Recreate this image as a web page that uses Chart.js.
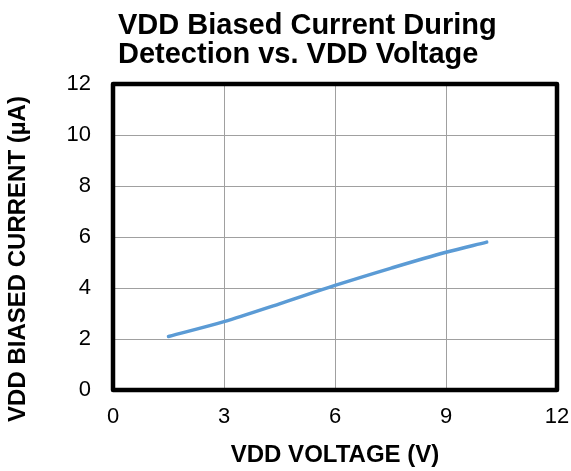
<!DOCTYPE html>
<html>
<head>
<meta charset="utf-8">
<script src="https://cdn.jsdelivr.net/npm/chart.js@4"></script>
<style>
  html, body { margin: 0; padding: 0; background: #fff; }
  #wrap { width: 571px; height: 471px; }
</style>
</head>
<body>
<div id="wrap"><canvas id="myChart" width="571" height="471"></canvas></div>
<script>
var titleLines = ['VDD Biased Current During', 'Detection vs. VDD Voltage'];
var xTitle = 'VDD VOLTAGE (V)';
var yTitle = 'VDD BIASED CURRENT (µA)';

var voltage = [1.5, 3, 4.5, 6, 7.5, 9, 10.1];
var current = [2.1, 2.68, 3.38, 4.1, 4.77, 5.4, 5.8];

var xTicks = [0, 3, 6, 9, 12];
var yTicks = [0, 2, 4, 6, 8, 10, 12];

var FONT = '"Liberation Sans", Arial, sans-serif';

var points = voltage.map(function (v, i) { return { x: v, y: current[i] }; });

// thick black frame + rotated y title, and nudge title to the right
var framePlugin = {
  id: 'frame',
  afterLayout: function (chart) {
    if (chart.titleBlock) {
      chart.titleBlock.left = chart.chartArea.left + 5;
    }
  },
  afterDraw: function (chart) {
    var ctx = chart.ctx, a = chart.chartArea;
    ctx.save();
    ctx.strokeStyle = '#000';
    ctx.lineWidth = 4.5;
    ctx.lineJoin = 'round';
    ctx.strokeRect(a.left, a.top, a.right - a.left, a.bottom - a.top);

    ctx.translate(18, 259);
    ctx.rotate(-Math.PI / 2);
    ctx.font = 'bold 24px ' + FONT;
    ctx.fillStyle = '#000';
    ctx.textAlign = 'center';
    ctx.textBaseline = 'middle';
    ctx.fillText(yTitle, 0, 0);
    ctx.restore();
  }
};

var ctx = document.getElementById('myChart');
var myChart = new Chart(ctx, {
  type: 'scatter',
  data: {
    datasets: [{
      data: points,
      showLine: true,
      borderColor: '#5b9bd5',
      borderWidth: 3.5,
      borderCapStyle: 'round',
      pointRadius: 0,
      cubicInterpolationMode: 'monotone',
      fill: false
    }]
  },
  options: {
    responsive: false,
    animation: false,
    layout: { padding: { left: 0, right: 14, top: 0, bottom: 0 } },
    plugins: {
      legend: { display: false },
      tooltip: { enabled: false },
      title: {
        display: true,
        text: titleLines,
        align: 'start',
        fullSize: false,
        color: '#000',
        font: { family: FONT, size: 29, weight: 'bold', lineHeight: 1.0 },
        padding: { top: 11, bottom: 15 }
      }
    },
    scales: {
      x: {
        type: 'linear',
        min: 0,
        max: 12,
        afterBuildTicks: function (scale) {
          scale.ticks = xTicks.map(function (v) { return { value: v }; });
        },
        afterFit: function (scale) {
          scale.height = 81;
          scale.paddingLeft = 0;
          scale.paddingRight = 0;
        },
        grid: { color: '#a0a0a0', lineWidth: 1, drawTicks: false },
        border: { display: false },
        ticks: {
          color: '#000',
          padding: 14,
          font: { family: FONT, size: 22 }
        },
        title: {
          display: true,
          text: xTitle,
          color: '#000',
          font: { family: FONT, size: 24, weight: 'bold' },
          padding: { top: 0, bottom: 1 }
        }
      },
      y: {
        type: 'linear',
        min: 0,
        max: 12,
        afterBuildTicks: function (scale) {
          scale.ticks = yTicks.map(function (v) { return { value: v }; });
        },
        afterFit: function (scale) { scale.width = 113; },
        grid: { color: '#a0a0a0', lineWidth: 1, drawTicks: false },
        border: { display: false },
        ticks: {
          color: '#000',
          padding: 22,
          font: { family: FONT, size: 22 }
        }
      }
    }
  },
  plugins: [framePlugin]
});
</script>
</body>
</html>
